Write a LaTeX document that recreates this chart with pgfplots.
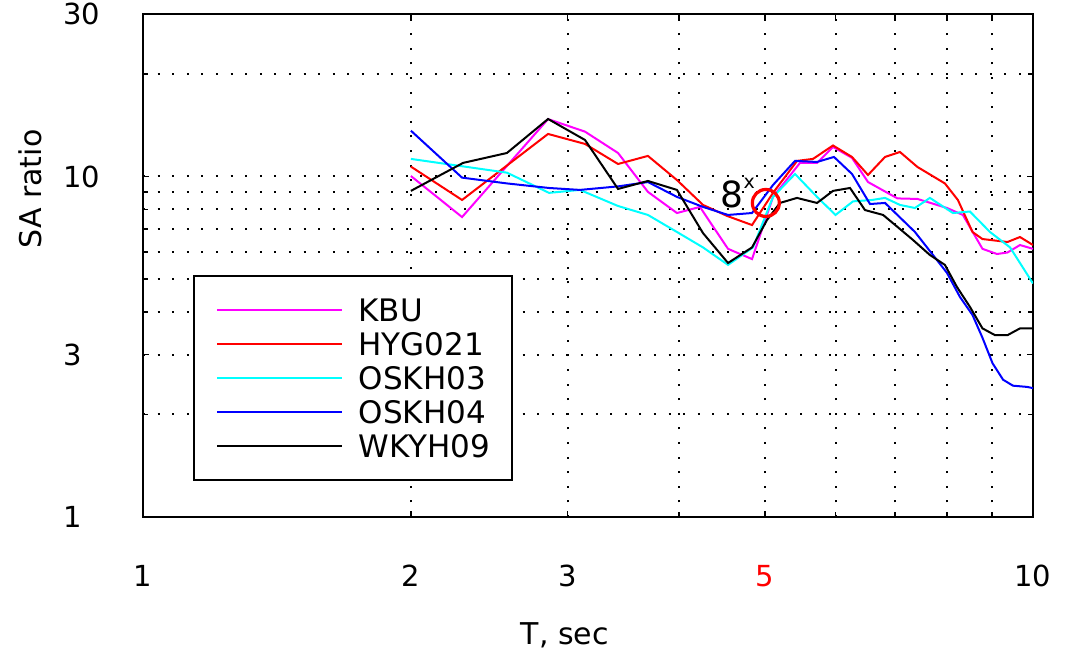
\documentclass[border=0pt]{standalone}
\usepackage{fontspec}
\setmainfont{DejaVu Sans}
\usepackage{pgfplots}
\pgfplotsset{compat=1.18}
\definecolor{cMag}{RGB}{255,0,255}
\definecolor{cRed}{RGB}{255,0,0}
\definecolor{cCyan}{RGB}{0,255,255}
\definecolor{cBlue}{RGB}{0,0,255}
\begin{document}
\begin{tikzpicture}
\useasboundingbox (-71.5pt,-67pt) rectangle (465pt,258.5pt);
\begin{axis}[
  at={(0,0)}, anchor=south west,
  scale only axis, width=445pt, height=251.5pt,
  xmode=log, ymode=log,
  xmin=1, xmax=10, ymin=1, ymax=30,
  axis line style={line width=1.2pt},
  xtick={1,2,3,5,10}, xticklabels={1,2,3,\textcolor{cRed}{5},10},
  minor xtick={4,6,7,8,9},
  ytick={1,3,10,30}, yticklabels={1,3,10,30},
  minor ytick={2,4,5,6,7,8,9,20},
  tick align=inside,
  major tick length=3pt, minor tick length=2.5pt,
  every tick/.style={black, line width=0.8pt},
  grid=both,
  major grid style={black, line width=1pt, dash pattern=on 1pt off 6.3pt},
  minor grid style={black, line width=1pt, dash pattern=on 1pt off 6.3pt},
  ticklabel style={font=\fontsize{14.5}{16}\selectfont},
  xticklabel style={anchor=center, yshift=-29.5pt},
  yticklabel style={anchor=west, inner xsep=0pt, xshift=-40pt},
  xlabel={T, sec}, ylabel={SA ratio},
  label style={font=\fontsize{15}{18}\selectfont},
  xlabel style={at={(axis description cs:0.474,-0.2346)}, anchor=center},
  ylabel style={at={(axis description cs:-0.127,0.652)}, anchor=center},
  legend style={draw=black, line width=1pt, fill=white,
    at={(0.0562,0.481)}, anchor=north west,
    inner xsep=11pt, inner ysep=11.5pt, row sep=6pt, column sep=7.5pt,
    font=\fontsize{15.5}{18}\selectfont,
    nodes={inner sep=0pt, text height=11pt, text depth=0pt}},
  legend cell align=left,
  legend image code/.code={\draw[#1, line width=1.3pt] (0pt,0pt) -- (62.5pt,0pt);},
  every axis plot/.append style={line width=1pt},
]
\addplot[cMag, mark=none] coordinates {
(2.000,10.03) (2.283,7.60) (2.852,14.74) (3.138,13.54) (3.418,11.72) (3.693,9.01)
(3.981,7.81) (4.225,8.14) (4.336,7.35) (4.543,6.13) (4.834,5.72) (5.104,8.71)
(5.473,10.96) (5.719,10.96) (5.961,12.21) (6.261,11.34) (6.526,9.63) (7.043,8.62)
(7.418,8.59) (8.005,8.08) (8.341,7.71) (8.775,6.13) (9.111,5.92) (9.362,5.98)
(9.669,6.29) (10,6.13)};
\addlegendentry{KBU}
\addplot[cRed, mark=none] coordinates {
(2.000,10.69) (2.283,8.53) (2.852,13.33) (3.138,12.46) (3.418,10.88) (3.693,11.49)
(3.981,9.76) (4.258,8.25) (4.531,7.66) (4.834,7.20) (5.104,8.95) (5.431,11.11)
(5.660,11.26) (5.961,12.33) (6.261,11.41) (6.526,10.10) (6.820,11.41) (7.088,11.80)
(7.418,10.66) (7.963,9.54) (8.234,8.53) (8.551,6.87) (8.775,6.55) (9.362,6.42)
(9.669,6.64) (10,6.29)};
\addlegendentry{HYG021}
\addplot[cCyan, mark=none] coordinates {
(2.000,11.26) (2.564,10.26) (2.859,8.95) (3.097,9.13) (3.154,8.95) (3.418,8.19)
(3.693,7.71) (3.981,6.87) (4.258,6.19) (4.543,5.50) (4.847,6.19) (5.104,8.71)
(5.403,10.17) (5.719,8.71) (6.0,7.71) (6.278,8.45) (6.594,8.53) (6.820,8.65)
(7.088,8.25) (7.369,8.08) (7.660,8.65) (8.130,7.81) (8.495,7.89) (8.947,6.87)
(9.424,6.19) (10,4.85)};
\addlegendentry{OSKH03}
\addplot[cBlue, mark=none] coordinates {
(2.000,13.63) (2.283,9.92) (2.564,9.54) (2.859,9.25) (3.097,9.13) (3.418,9.35)
(3.693,9.63) (3.981,8.71) (4.258,8.14) (4.543,7.71) (4.834,7.81) (5.104,9.44)
(5.403,11.11) (5.719,11.03) (5.976,11.41) (6.261,10.17) (6.560,8.30) (6.820,8.36)
(7.369,6.87) (8.005,5.21) (8.277,4.43) (8.551,3.92) (8.775,3.36) (9.005,2.83)
(9.255,2.53) (9.495,2.43) (9.846,2.41) (10,2.39)};
\addlegendentry{OSKH04}
\addplot[black, mark=none] coordinates {
(2.000,9.07) (2.289,10.96) (2.564,11.72) (2.852,14.75) (3.138,12.80) (3.418,9.19)
(3.693,9.70) (3.981,9.13) (4.258,6.82) (4.543,5.57) (4.834,6.19) (5.025,7.45)
(5.196,8.36) (5.431,8.65) (5.719,8.36) (5.961,9.07) (6.229,9.25) (6.475,7.97)
(6.785,7.71) (7.043,7.11) (7.331,6.51) (7.660,5.88) (7.963,5.50) (8.213,4.74)
(8.495,4.14) (8.775,3.58) (9.064,3.42) (9.362,3.42) (9.669,3.58) (10,3.58)};
\addlegendentry{WKYH09}
\addplot[cRed, only marks, mark=o, mark size=6.75pt, line width=1.6pt, forget plot]
  coordinates {(5.01,8.36)};
\node[font=\fontsize{18}{18}\selectfont, inner sep=0pt] at (axis cs:4.59,8.88) {8};
\node[font=\fontsize{9.5}{9.5}\selectfont, inner sep=0pt] at (axis cs:4.80,9.55) {x};
\end{axis}
\end{tikzpicture}
\end{document}
